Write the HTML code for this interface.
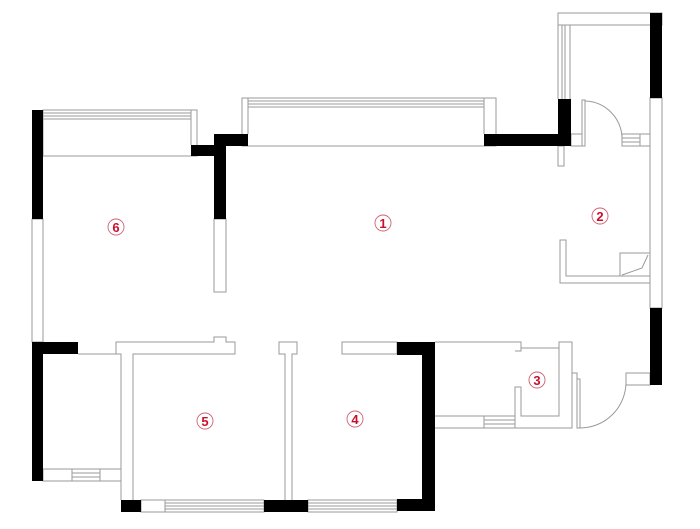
<!DOCTYPE html>
<html><head><meta charset="utf-8"><style>
html,body{margin:0;padding:0;background:#fff;width:700px;height:529px;overflow:hidden}
svg{display:block}
text{font-family:"Liberation Sans",sans-serif;font-size:13px;fill:#c8102e;text-anchor:middle;font-weight:bold}
</style></head><body>
<svg width="700" height="529" viewBox="0 0 700 529" xmlns="http://www.w3.org/2000/svg">
<g fill="none" stroke="#9a9a9a" stroke-width="1">
<!-- left balcony (6) -->
<rect x="43" y="110" width="154" height="46"/>
<line x1="43" y1="113" x2="191" y2="113"/><line x1="43" y1="116" x2="191" y2="116"/><line x1="43" y1="119" x2="191" y2="119"/>
<line x1="191" y1="110" x2="191" y2="145"/>
<!-- left white wall -->
<rect x="32" y="219" width="11" height="123"/>
<!-- partition 6/1 -->
<rect x="214" y="219" width="12" height="73"/>
<!-- living balcony -->
<rect x="242" y="98" width="254" height="48"/>
<line x1="248" y1="101" x2="484" y2="101"/><line x1="248" y1="104" x2="484" y2="104"/><line x1="248" y1="107" x2="484" y2="107"/>
<line x1="248" y1="98" x2="248" y2="134"/><line x1="484" y1="98" x2="484" y2="134"/>
<!-- upper right balcony -->
<rect x="558" y="13" width="104" height="12"/>
<line x1="558" y1="25" x2="558" y2="99"/><line x1="562" y1="25" x2="562" y2="99"/><line x1="565" y1="25" x2="565" y2="99"/><line x1="570" y1="25" x2="570" y2="99"/>
<!-- right white wall -->
<rect x="650" y="98" width="12" height="210"/>
<!-- door 2 -->
<rect x="571" y="134" width="11" height="12"/>
<rect x="582" y="100" width="3" height="46"/>
<path d="M585 101 A38 38 0 0 1 622 139"/>
<rect x="622" y="134" width="28" height="12"/>
<line x1="622" y1="138" x2="640" y2="138"/><line x1="622" y1="142" x2="640" y2="142"/><line x1="640" y1="134" x2="640" y2="146"/>
<rect x="558" y="146" width="6" height="20"/>
<!-- room2 enclosure -->
<path d="M650 283 H560 V240 H566 V276 H650"/>
<rect x="620" y="253" width="30" height="23"/>
<path d="M622 275 L642 268 L648 255"/>
<!-- lower left room -->
<path d="M78 354 H121"/>
<rect x="43" y="469" width="78" height="12"/>
<line x1="72" y1="469" x2="72" y2="481"/><line x1="100" y1="469" x2="100" y2="481"/>
<line x1="72" y1="473" x2="100" y2="473"/><line x1="72" y1="477" x2="100" y2="477"/>
<!-- bedroom 5 walls -->
<path d="M121 500 V354 H116 V342 H214 V337 H226 V342 H235 V354 H133 V500"/>
<!-- partition 5/4 -->
<path d="M285 500 V354 H279 V342 H297 V354 H292 V500"/>
<rect x="342" y="342" width="55" height="12"/>
<!-- bottom windows -->
<rect x="141" y="500" width="123" height="12"/>
<line x1="165" y1="500" x2="165" y2="512"/>
<line x1="165" y1="503" x2="264" y2="503"/><line x1="165" y1="506" x2="264" y2="506"/><line x1="165" y1="509" x2="264" y2="509"/>
<rect x="308" y="500" width="89" height="12"/>
<line x1="308" y1="503" x2="397" y2="503"/><line x1="308" y1="506" x2="397" y2="506"/><line x1="308" y1="509" x2="397" y2="509"/>
<!-- room 3 -->
<path d="M435 342 H521 V351 H515 M521 348 H559 V342 H572 V373 H577 V379"/>
<path d="M435 416 H515 V387 H521 V416 H559 V348 M572 373 V428 H435"/>
<rect x="484" y="416" width="31" height="12"/>
<line x1="484" y1="420" x2="515" y2="420"/><line x1="484" y1="424" x2="515" y2="424"/>
<rect x="577" y="379" width="3" height="49"/>
<path d="M580 428 A46 46 0 0 0 626 382"/>
<rect x="626" y="373" width="24" height="12"/>
</g>
<g fill="#000">
<rect x="32" y="110" width="11" height="109"/>
<rect x="191" y="145" width="24" height="11"/>
<rect x="214" y="134" width="34" height="12"/>
<rect x="214" y="134" width="12" height="85"/>
<rect x="484" y="134" width="87" height="12"/>
<rect x="558" y="99" width="13" height="47"/>
<rect x="650" y="13" width="12" height="85"/>
<rect x="650" y="308" width="12" height="77"/>
<rect x="32" y="342" width="11" height="139"/>
<rect x="32" y="342" width="46" height="12"/>
<rect x="121" y="500" width="20" height="12"/>
<rect x="264" y="500" width="44" height="12"/>
<rect x="397" y="342" width="38" height="13"/>
<rect x="422" y="342" width="13" height="169"/>
<rect x="397" y="499" width="38" height="12"/>
</g>
<g fill="none" stroke="#d06070" stroke-width="0.9">
<circle cx="116" cy="227" r="8"/><circle cx="383" cy="223" r="8"/><circle cx="600" cy="216" r="8"/>
<circle cx="537" cy="380" r="8"/><circle cx="355" cy="419" r="8"/><circle cx="205" cy="421" r="8"/>
</g>
<text x="116" y="232">6</text><text x="383" y="228">1</text><text x="600" y="221">2</text>
<text x="537" y="385">3</text><text x="355" y="424">4</text><text x="205" y="426">5</text>
</svg>
</body></html>
